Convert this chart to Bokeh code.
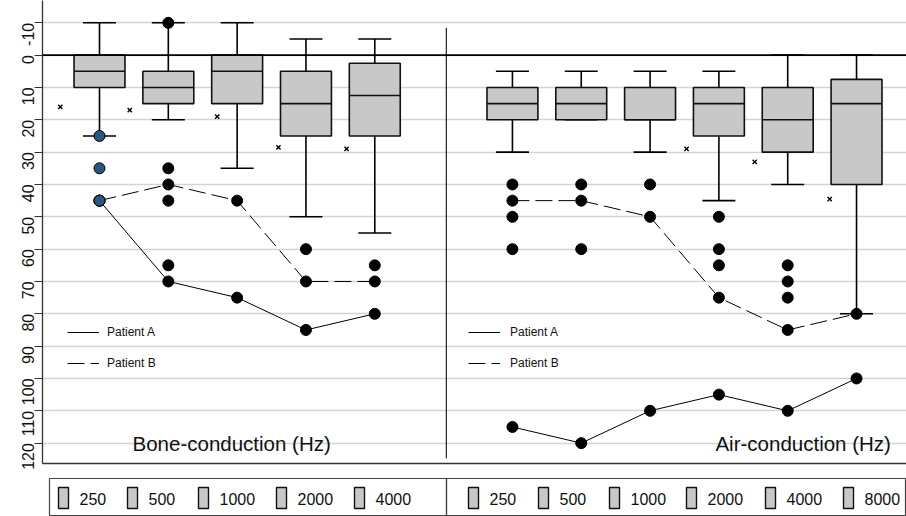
import numpy as np
from bokeh.plotting import figure
from bokeh.layouts import column
from bokeh.models import (Range1d, FixedTicker, Span, Label, Legend, LegendItem,
                          ColumnDataSource, CustomJSTickFormatter)
from bokeh.embed import file_html
from bokeh.resources import INLINE
from bokeh.core.properties import value

# ---------------- data ----------------
bone_freqs = ["250", "500", "1000", "2000", "4000"]
air_freqs = ["250", "500", "1000", "2000", "4000", "8000"]

bone_whisk_top = [-10, -10, -10, -5, -5]
bone_q1 = [0, 5, 0, 5, 2.5]
bone_med = [5, 10, 5, 15, 12.5]
bone_q3 = [10, 15, 15, 25, 25]
bone_whisk_bot = [25, 20, 35, 50, 55]
bone_mean = [16, 17, 19, 28.5, 29]
bone_mean_dx = [-0.57, -0.56, -0.29, -0.40, -0.41]
bone_outliers = [[], [-10, 35, 45, 65], [], [60], [65]]
bone_highlight = [[25, 35, 45], [], [], [], []]

air_whisk_top = [5, 5, 5, 5, 0, 0]
air_q1 = [10, 10, 10, 10, 10, 7.5]
air_med = [15, 15, 20, 15, 20, 15]
air_q3 = [20, 20, 20, 25, 30, 40]
air_whisk_bot = [30, 20, 30, 45, 40, 80]
air_mean = [None, None, None, 29, 33, 44.5]
air_mean_dx = [0, 0, 0, -0.47, -0.48, -0.39]
air_outliers = [[40, 50, 60], [40, 60], [40], [50, 60, 65], [65, 70, 75], []]

patient_a_bone = [45, 70, 75, 85, 80]
patient_b_bone = [45, 40, 45, 70, 70]
patient_a_air = [115, 120, 110, 105, 110, 100]
patient_b_air = [45, 45, 50, 75, 85, 80]

y_ticks = list(range(-10, 121, 10))

# ---------------- styling / layout ----------------
FONT = "Liberation Sans"
BOX_FILL = "#c8c8c8"
BLUE = "#2b5683"
BOX_W = 0.74
CAP_W = 0.48
DIVIDER_X = 6.04
LEFT_BORDER = 42
DASH = "17 6"

bone_x = np.arange(1, len(bone_freqs) + 1)
air_x = np.arange(len(bone_freqs) + 2, len(bone_freqs) + 2 + len(air_freqs))

p = figure(width=906, height=470, output_backend="svg", toolbar_location=None,
           x_range=Range1d(0.1718, 12.726), y_range=Range1d(126.3, -16.9),
           min_border_left=LEFT_BORDER, min_border_right=0, min_border_top=0,
           min_border_bottom=7)
p.outline_line_color = None
p.background_fill_color = "white"

# axes
p.xaxis.ticker = FixedTicker(ticks=[])
p.xaxis.major_label_text_font_size = "0px"
p.xaxis.major_tick_out = 0
p.xaxis.major_tick_in = 0
p.xaxis.minor_tick_line_color = None
p.xaxis.major_label_standoff = 0
p.xaxis.axis_line_color = "#333333"
p.xaxis.axis_line_width = 1.3

p.yaxis.ticker = FixedTicker(ticks=y_ticks)
p.yaxis.formatter = CustomJSTickFormatter(code="return String(tick);")
p.yaxis.major_label_orientation = np.pi / 2
p.yaxis.major_label_text_font = FONT
p.yaxis.major_label_text_font_size = "16px"
p.yaxis.major_label_text_color = "#111111"
p.yaxis.major_tick_out = 8
p.yaxis.major_tick_in = 0
p.yaxis.minor_tick_line_color = None
p.yaxis.major_label_standoff = 6
p.yaxis.axis_line_color = "#333333"
p.yaxis.axis_line_width = 1.3
p.yaxis.major_tick_line_color = "#333333"

p.xgrid.grid_line_color = None
p.ygrid.ticker = FixedTicker(ticks=y_ticks)
p.ygrid.grid_line_color = "#d4d4d4"
p.ygrid.grid_line_width = 1.5

p.add_layout(Span(location=0, dimension="width", line_color="black", line_width=1.8))
p.segment(x0=[DIVIDER_X], y0=[-8.5], x1=[DIVIDER_X], y1=[124.7],
          line_color="#222222", line_width=1.2)


def draw_boxes(xs, wt, q1, med, q3, wb):
    src = ColumnDataSource(dict(x=xs, wt=wt, q1=q1, med=med, q3=q3, wb=wb))
    p.segment(x0="x", y0="wt", x1="x", y1="q1", source=src, line_color="black", line_width=1.6)
    p.segment(x0="x", y0="q3", x1="x", y1="wb", source=src, line_color="black", line_width=1.6)
    xs_arr = np.asarray(xs, dtype=float)
    p.segment(x0=xs_arr - CAP_W / 2, y0=wt, x1=xs_arr + CAP_W / 2, y1=wt, line_color="black", line_width=1.6)
    p.segment(x0=xs_arr - CAP_W / 2, y0=wb, x1=xs_arr + CAP_W / 2, y1=wb, line_color="black", line_width=1.6)
    p.vbar(x="x", top="q1", bottom="q3", width=BOX_W, source=src,
           fill_color=BOX_FILL, line_color="#111111", line_width=1.6)
    p.segment(x0=xs_arr - BOX_W / 2, y0=med, x1=xs_arr + BOX_W / 2, y1=med,
              line_color="#111111", line_width=1.6)


draw_boxes(bone_x, bone_whisk_top, bone_q1, bone_med, bone_q3, bone_whisk_bot)
draw_boxes(air_x, air_whisk_top, air_q1, air_med, air_q3, air_whisk_bot)

# means (x markers)
mx, my = [], []
for x, m, dx in zip(bone_x, bone_mean, bone_mean_dx):
    mx.append(x + dx); my.append(m)
for x, m, dx in zip(air_x, air_mean, air_mean_dx):
    if m is not None:
        mx.append(x + dx); my.append(m)
p.scatter(mx, my, marker="x", size=6, line_color="black", line_width=1.4)

# patient lines
la_b = p.line(bone_x, patient_a_bone, line_color="black", line_width=1)
lb_b = p.line(bone_x, patient_b_bone, line_color="black", line_width=1, line_dash=DASH)
la_a = p.line(air_x, patient_a_air, line_color="black", line_width=1)
lb_a = p.line(air_x, patient_b_air, line_color="black", line_width=1, line_dash=DASH)

# outlier and patient dots
ox, oy = [], []
for x, vals in zip(bone_x, bone_outliers):
    ox += [x] * len(vals); oy += vals
for x, vals in zip(air_x, air_outliers):
    ox += [x] * len(vals); oy += vals
ox += list(bone_x) * 2 + list(air_x) * 2
oy += patient_a_bone + patient_b_bone + patient_a_air + patient_b_air
p.scatter(ox, oy, size=11, fill_color="black", line_color="black")

hx, hy = [], []
for x, vals in zip(bone_x, bone_highlight):
    hx += [x] * len(vals); hy += vals
p.scatter(hx, hy, size=11, fill_color=BLUE, line_color="black", line_width=1)

# panel titles
p.add_layout(Label(x=1.48, y=120, text="Bone-conduction (Hz)", text_font=FONT,
                   text_font_size="20.5px", text_baseline="alphabetic", text_color="#111111"))
p.add_layout(Label(x=9.95, y=120, text="Air-conduction (Hz)", text_font=FONT,
                   text_font_size="20.5px", text_baseline="alphabetic", text_color="#111111"))

# patient legends
for loc, ra, rb, standoff in [((25, 86), la_b, lb_b, 8), ((426, 86), la_a, lb_a, 10)]:
    lg = Legend(items=[LegendItem(label="Patient A", renderers=[ra]),
                       LegendItem(label="Patient B", renderers=[rb])],
                location=loc, padding=0, margin=0, spacing=3,
                glyph_width=32, glyph_height=28, label_height=28,
                label_standoff=standoff, label_text_font=FONT,
                label_text_font_size="12px", label_text_color="#111111",
                border_line_color=None, background_fill_alpha=0)
    p.add_layout(lg)

# ---------------- frequency key strip ----------------
s = figure(width=906, height=46, output_backend="svg", toolbar_location=None,
           x_range=Range1d(LEFT_BORDER, 906), y_range=Range1d(46, 0),
           min_border_left=LEFT_BORDER, min_border_right=0, min_border_top=0,
           min_border_bottom=0)
s.axis.visible = False
s.grid.visible = False
s.outline_line_color = None

KEY_LABEL_X_BONE = [79, 148, 219, 297, 375]
KEY_LABEL_X_AIR = [489, 559, 630, 707, 786, 864]
key_labels = bone_freqs + air_freqs
key_x = np.array(KEY_LABEL_X_BONE + KEY_LABEL_X_AIR, dtype=float)

s.quad(left=[49, 446], right=[446, 905], top=[8, 8], bottom=[45, 45],
       fill_color=None, line_color="#444444", line_width=1.2)
s.quad(left=key_x - 21, right=key_x - 11, top=17, bottom=38,
       fill_color=BOX_FILL, line_color="#111111", line_width=1.4)
s.text(x=key_x, y=28, text=key_labels, text_font=value(FONT), text_font_size="16px",
       text_baseline="middle", text_align="left", text_color="#111111")

layout = column(p, s, spacing=0)
open("out.html", "w").write(file_html(layout, INLINE))
